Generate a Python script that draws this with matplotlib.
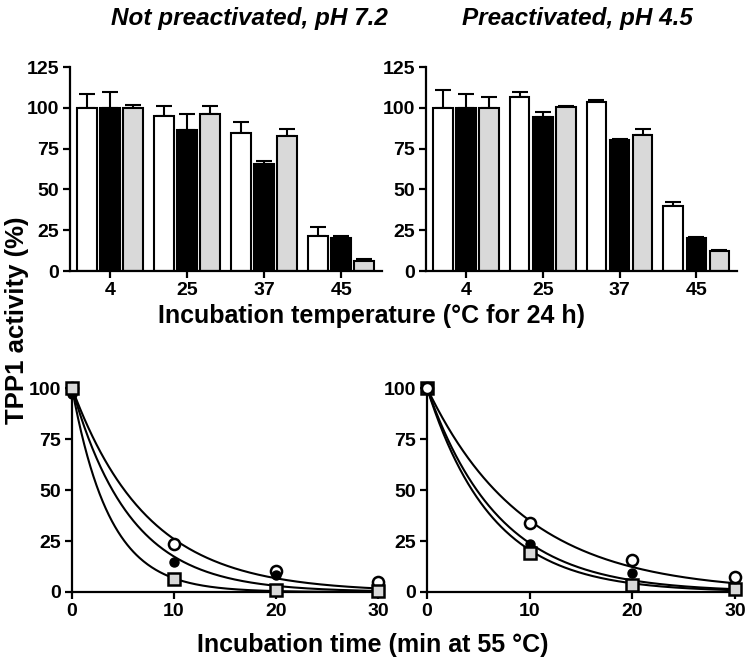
import matplotlib
matplotlib.use("Agg")
import matplotlib.pyplot as plt
import numpy as np

plt.rcParams['font.family'] = ['Liberation Sans', 'DejaVu Sans']
plt.rcParams['font.weight'] = 'bold'

# --- bar data: TPP1 activity (%) after 24 h at each temperature ---
temps = ['4', '25', '37', '45']

# Not preactivated, pH 7.2
np_white = [100, 95, 84.5, 21.7]
np_white_err = [8.5, 6, 7, 5]
np_black = [100, 86.4, 65.8, 20.4]
np_black_err = [9.5, 10, 1.5, 1]
np_grey = [100, 96.4, 82.9, 5.9]
np_grey_err = [1.5, 5, 4, 1.7]

# Preactivated, pH 4.5
pa_white = [100, 106.4, 103.6, 39.8]
pa_white_err = [10.8, 3, 1, 2.5]
pa_black = [100, 94.4, 80, 20.2]
pa_black_err = [8.3, 3, 1, 0.8]
pa_grey = [100, 100.3, 83.3, 12]
pa_grey_err = [6.4, 0.8, 3.7, 1]

# --- time course at 55 C ---
times = [0, 10, 20, 30]
np_circle = [100, 23.4, 10.5, 4.9]
np_dot = [97, 14.6, 8.5, 1]
np_square = [100, 6.2, 1, 0.6]
pa_circle = [100, 34, 15.5, 7.2]
pa_dot = [100, 23.4, 9.5, 1.6]
pa_square = [100, 19.3, 3.6, 1.3]

# fitted first-order decay rate constants (1/min)
np_rates = [0.135, 0.175, 0.27]
pa_rates = [0.105, 0.143, 0.158]

W, H = 751, 671
fig = plt.figure(figsize=(W / 100, H / 100), dpi=100)


def px_axes(left, right, top, bottom):
    return fig.add_axes([left / W, 1 - bottom / H, (right - left) / W, (bottom - top) / H])


def style(ax):
    for s in ['top', 'right']:
        ax.spines[s].set_visible(False)
    for s in ['left', 'bottom']:
        ax.spines[s].set_linewidth(1.6)
    ax.tick_params(width=1.6, length=5, labelsize=14, pad=3)
    for lab in ax.get_xticklabels() + ax.get_yticklabels():
        lab.set_fontweight('bold')


def bar_panel(ax, series):
    x = np.arange(len(temps))
    pitch, width = 0.3, 0.255
    colors = ['white', 'black', '#d9d9d9']
    for i, (vals, errs) in enumerate(series):
        pos = x + (i - 1) * pitch
        ax.bar(pos, vals, width, color=colors[i], edgecolor='black', linewidth=1.5, zorder=2)
        ax.errorbar(pos, vals, yerr=[np.zeros(len(errs)), errs], fmt='none',
                    ecolor='black', elinewidth=1.5, capsize=5.5, capthick=1.5, zorder=1)
    ax.set_xlim(-0.52, 3.53)
    ax.set_ylim(0, 125)
    ax.set_yticks([0, 25, 50, 75, 100, 125])
    ax.set_xticks(x)
    ax.set_xticklabels(temps)
    ax.tick_params(axis='x', pad=5)
    style(ax)


def decay_panel(ax, circle, dot, square, rates, order):
    t = np.linspace(0, 30, 300)
    for k in rates:
        ax.plot(t, 100 * np.exp(-k * t), color='black', lw=1.5, zorder=2)
    marks = {
        'circle': dict(y=circle, marker='o', ms=8, mfc='white', mec='black', mew=1.8),
        'dot': dict(y=dot, marker='o', ms=6.5, mfc='black', mec='black', mew=1),
        'square': dict(y=square, marker='s', ms=8, mfc='#d9d9d9', mec='black', mew=1.8),
    }
    for z, name in enumerate(order):
        m = marks[name]
        ax.plot(times, m['y'], ls='none', marker=m['marker'], ms=m['ms'], mfc=m['mfc'],
                mec=m['mec'], mew=m['mew'], clip_on=False, zorder=3 + z)
    ax.set_xlim(0, 30)
    ax.set_ylim(0, 100)
    ax.set_xticks(times)
    ax.set_yticks([0, 25, 50, 75, 100])
    style(ax)


ax1 = px_axes(70, 382, 67, 271)
bar_panel(ax1, [(np_white, np_white_err), (np_black, np_black_err), (np_grey, np_grey_err)])
ax2 = px_axes(426, 737, 67, 271)
bar_panel(ax2, [(pa_white, pa_white_err), (pa_black, pa_black_err), (pa_grey, pa_grey_err)])

ax3 = px_axes(72, 378, 388, 592)
decay_panel(ax3, np_circle, np_dot, np_square, np_rates, ['circle', 'dot', 'square'])
ax4 = px_axes(427, 735, 388, 592)
decay_panel(ax4, pa_circle, pa_dot, pa_square, pa_rates, ['dot', 'square', 'circle'])

fig.text(249 / W, 1 - 18 / H, 'Not preactivated, pH 7.2', ha='center', va='center',
         fontsize=17.5, fontweight='bold', fontstyle='italic')
fig.text(577 / W, 1 - 18 / H, 'Preactivated, pH 4.5', ha='center', va='center',
         fontsize=17.5, fontweight='bold', fontstyle='italic')
fig.text(371 / W, 1 - 316 / H, 'Incubation temperature (\u00b0C for 24 h)', ha='center',
         va='center', fontsize=18, fontweight='bold')
fig.text(373 / W, 1 - 645 / H, 'Incubation time (min at 55 \u00b0C)', ha='center',
         va='center', fontsize=18, fontweight='bold')
fig.text(17 / W, 1 - 320 / H, 'TPP1 activity (%)', ha='center', va='center',
         rotation=90, fontsize=18.5, fontweight='bold')

fig.savefig('out.png', dpi=100)
